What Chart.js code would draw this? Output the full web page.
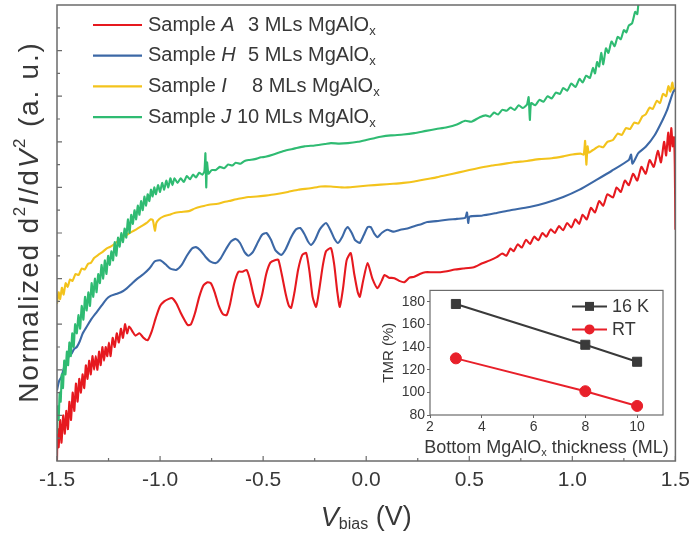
<!DOCTYPE html>
<html><head><meta charset="utf-8">
<script src="https://cdn.jsdelivr.net/npm/chart.js@4/dist/chart.umd.min.js"></script>
<style>
html,body{margin:0;padding:0;background:#fff;}
#wrap{position:relative;width:697px;height:540px;overflow:hidden;}
#main{position:absolute;left:0;top:0;}
#inset{position:absolute;left:380px;top:280px;}
</style></head><body>
<div id="wrap"><canvas id="main" width="697" height="540"></canvas><canvas id="inset" width="300" height="180"></canvas></div>
<script>
// ---------- data (V_bias in V, normalized d2I/dV2 in a.u.) ----------
const sampleA = [[-1.500,0.0],[-1.497,0.7],[-1.492,0.3],[-1.485,0.9],[-1.478,0.4],[-1.470,1.0],[-1.462,0.6],[-1.455,1.1],[-1.447,0.7],[-1.440,1.3],[-1.432,0.9],[-1.424,1.5],[-1.416,1.1],[-1.408,1.7],[-1.400,1.3],[-1.392,1.8],[-1.384,1.5],[-1.376,1.9],[-1.368,1.6],[-1.360,2.1],[-1.352,1.8],[-1.344,2.2],[-1.336,1.9],[-1.328,2.3],[-1.320,2.0],[-1.312,2.3],[-1.304,2.0],[-1.296,2.4],[-1.288,2.1],[-1.280,2.5],[-1.272,2.2],[-1.264,2.5],[-1.256,2.3],[-1.248,2.6],[-1.240,2.3],[-1.230,2.7],[-1.220,2.5],[-1.210,2.8],[-1.200,2.6],[-1.190,2.9],[-1.180,2.7],[-1.170,3.0],[-1.160,2.8],[-1.150,2.95],[-1.135,2.85],[-1.120,2.75],[-1.100,2.80],[-1.080,2.70],[-1.060,2.65],[-1.040,2.85],[-1.020,3.15],[-1.000,3.40],[-0.980,3.50],[-0.960,3.55],[-0.941,3.57],[-0.920,3.45],[-0.900,3.25],[-0.880,3.08],[-0.865,2.98],[-0.850,3.00],[-0.830,3.25],[-0.810,3.60],[-0.790,3.85],[-0.770,3.92],[-0.754,3.90],[-0.735,3.70],[-0.715,3.40],[-0.695,3.22],[-0.677,3.20],[-0.660,3.45],[-0.640,3.90],[-0.620,4.15],[-0.600,4.15],[-0.580,4.19],[-0.565,4.00],[-0.550,3.70],[-0.535,3.45],[-0.523,3.38],[-0.505,3.65],[-0.485,4.10],[-0.465,4.35],[-0.440,4.41],[-0.426,4.41],[-0.410,4.10],[-0.390,3.65],[-0.375,3.40],[-0.364,3.36],[-0.348,3.70],[-0.330,4.20],[-0.310,4.52],[-0.291,4.56],[-0.275,4.15],[-0.260,3.60],[-0.243,3.38],[-0.228,3.75],[-0.210,4.30],[-0.195,4.60],[-0.171,4.67],[-0.155,4.30],[-0.140,3.70],[-0.128,3.38],[-0.112,3.80],[-0.095,4.40],[-0.075,4.56],[-0.058,4.10],[-0.041,3.70],[-0.031,3.60],[-0.015,3.95],[0.007,4.34],[0.030,4.00],[0.055,3.79],[0.075,3.95],[0.089,4.08],[0.110,4.02],[0.137,4.01],[0.160,3.95],[0.185,3.92],[0.210,4.02],[0.233,4.04],[0.260,4.10],[0.286,4.14],[0.320,4.14],[0.360,4.14],[0.392,4.16],[0.430,4.20],[0.470,4.22],[0.522,4.25],[0.560,4.33],[0.600,4.40],[0.633,4.47],[0.660,4.55],[0.680,4.50],[0.700,4.66],[0.715,4.60],[0.735,4.75],[0.755,4.68],[0.775,4.85],[0.795,4.76],[0.815,4.92],[0.835,4.84],[0.855,5.00],[0.874,4.92],[0.895,5.08],[0.915,5.00],[0.935,5.15],[0.955,5.06],[0.975,5.22],[0.995,5.12],[1.015,5.30],[1.033,5.20],[1.050,5.40],[1.070,5.30],[1.090,5.55],[1.110,5.45],[1.130,5.70],[1.150,5.60],[1.170,5.85],[1.197,5.78],[1.215,6.00],[1.235,5.90],[1.255,6.15],[1.274,6.05],[1.295,6.30],[1.315,6.15],[1.335,6.45],[1.356,6.30],[1.375,6.60],[1.395,6.45],[1.415,6.80],[1.430,6.55],[1.445,7.00],[1.455,6.70],[1.465,7.20],[1.473,6.80],[1.480,7.30],[1.487,6.90],[1.493,7.10],[1.497,6.50],[1.500,5.07]];

const sampleH = [[-1.500,1.55],[-1.490,1.75],[-1.478,1.85],[-1.466,2.05],[-1.454,2.15],[-1.442,2.30],[-1.430,2.35],[-1.418,2.45],[-1.404,2.50],[-1.390,2.62],[-1.375,2.80],[-1.355,2.95],[-1.335,3.10],[-1.310,3.25],[-1.285,3.40],[-1.260,3.55],[-1.240,3.62],[-1.215,3.66],[-1.190,3.70],[-1.163,3.78],[-1.135,3.90],[-1.110,4.00],[-1.080,4.10],[-1.052,4.22],[-1.025,4.38],[-1.000,4.40],[-0.975,4.32],[-0.950,4.22],[-0.922,4.19],[-0.895,4.30],[-0.870,4.50],[-0.845,4.66],[-0.826,4.69],[-0.805,4.62],[-0.780,4.48],[-0.755,4.37],[-0.730,4.34],[-0.705,4.45],[-0.680,4.65],[-0.655,4.82],[-0.633,4.87],[-0.612,4.78],[-0.590,4.58],[-0.571,4.50],[-0.550,4.58],[-0.525,4.80],[-0.505,4.96],[-0.484,5.00],[-0.462,4.85],[-0.440,4.62],[-0.412,4.52],[-0.390,4.65],[-0.365,4.90],[-0.340,5.08],[-0.320,5.11],[-0.300,4.98],[-0.283,4.82],[-0.267,4.74],[-0.248,4.85],[-0.225,5.08],[-0.195,5.22],[-0.172,5.05],[-0.155,4.88],[-0.137,4.78],[-0.118,4.90],[-0.100,5.08],[-0.089,5.13],[-0.070,5.00],[-0.055,4.85],[-0.041,4.80],[-0.031,4.78],[-0.012,4.95],[0.007,5.13],[0.022,5.13],[0.040,4.98],[0.055,4.91],[0.075,5.00],[0.103,5.07],[0.130,5.03],[0.166,5.07],[0.200,5.10],[0.233,5.15],[0.270,5.20],[0.296,5.24],[0.340,5.26],[0.392,5.29],[0.440,5.31],[0.480,5.33],[0.489,5.45],[0.495,5.22],[0.502,5.36],[0.560,5.38],[0.633,5.44],[0.700,5.50],[0.792,5.57],[0.870,5.66],[0.956,5.79],[1.035,5.95],[1.115,6.16],[1.190,6.36],[1.274,6.60],[1.285,6.72],[1.292,6.52],[1.320,6.75],[1.356,6.89],[1.400,7.15],[1.438,7.48],[1.460,7.70],[1.476,7.92],[1.490,8.10],[1.500,8.15]];

const sampleI = [[-1.500,3.45],[-1.492,3.70],[-1.485,3.55],[-1.476,3.80],[-1.468,3.65],[-1.458,3.90],[-1.448,3.82],[-1.437,3.98],[-1.425,3.95],[-1.410,4.10],[-1.395,4.08],[-1.380,4.22],[-1.365,4.20],[-1.350,4.32],[-1.335,4.35],[-1.320,4.45],[-1.300,4.52],[-1.280,4.58],[-1.260,4.66],[-1.240,4.70],[-1.211,4.80],[-1.190,4.88],[-1.165,4.95],[-1.140,5.02],[-1.115,5.08],[-1.090,5.15],[-1.065,5.22],[-1.045,5.30],[-1.035,5.28],[-1.025,5.05],[-1.018,5.22],[-1.005,5.30],[-0.985,5.36],[-0.956,5.40],[-0.930,5.44],[-0.900,5.46],[-0.860,5.48],[-0.830,5.54],[-0.800,5.58],[-0.763,5.62],[-0.720,5.64],[-0.690,5.68],[-0.667,5.70],[-0.620,5.75],[-0.571,5.79],[-0.530,5.80],[-0.489,5.82],[-0.440,5.85],[-0.380,5.90],[-0.330,5.95],[-0.270,5.98],[-0.220,6.02],[-0.171,6.02],[-0.120,6.00],[-0.089,6.00],[-0.040,6.02],[0.010,6.04],[0.070,6.06],[0.130,6.08],[0.180,6.10],[0.233,6.13],[0.290,6.18],[0.340,6.22],[0.392,6.27],[0.450,6.33],[0.500,6.38],[0.551,6.43],[0.610,6.48],[0.660,6.51],[0.715,6.55],[0.780,6.58],[0.840,6.62],[0.900,6.64],[0.956,6.68],[1.000,6.72],[1.040,6.74],[1.055,6.72],[1.062,7.02],[1.068,6.50],[1.074,6.90],[1.080,6.76],[1.100,6.82],[1.130,6.90],[1.150,6.88],[1.170,7.00],[1.197,7.04],[1.220,7.18],[1.240,7.15],[1.260,7.30],[1.280,7.28],[1.300,7.42],[1.320,7.40],[1.340,7.56],[1.356,7.60],[1.375,7.75],[1.390,7.72],[1.410,7.90],[1.425,7.85],[1.440,8.05],[1.455,8.00],[1.466,8.22],[1.476,8.10],[1.485,8.30],[1.492,8.12],[1.500,8.18]];

const sampleJ = [[-1.500,0.6],[-1.496,1.2],[-1.492,0.9],[-1.487,1.5],[-1.482,1.3],[-1.477,1.9],[-1.471,1.6],[-1.465,2.2],[-1.459,1.9],[-1.452,2.4],[-1.446,2.1],[-1.440,2.6],[-1.433,2.3],[-1.426,2.8],[-1.419,2.5],[-1.412,3.0],[-1.404,2.8],[-1.396,3.2],[-1.388,2.9],[-1.380,3.4],[-1.372,3.1],[-1.364,3.6],[-1.356,3.3],[-1.348,3.7],[-1.340,3.4],[-1.332,3.9],[-1.324,3.6],[-1.316,4.0],[-1.308,3.7],[-1.300,4.1],[-1.292,3.9],[-1.284,4.3],[-1.276,4.0],[-1.268,4.4],[-1.260,4.1],[-1.252,4.5],[-1.244,4.3],[-1.236,4.6],[-1.228,4.4],[-1.220,4.8],[-1.212,4.5],[-1.204,4.9],[-1.196,4.7],[-1.188,5.0],[-1.180,4.8],[-1.172,5.1],[-1.164,4.9],[-1.156,5.3],[-1.148,5.0],[-1.140,5.4],[-1.132,5.2],[-1.124,5.5],[-1.116,5.3],[-1.108,5.6],[-1.100,5.4],[-1.092,5.7],[-1.084,5.5],[-1.076,5.8],[-1.068,5.6],[-1.060,5.85],[-1.052,5.7],[-1.044,5.95],[-1.036,5.8],[-1.028,6.0],[-1.020,5.85],[-1.010,6.05],[-1.000,5.9],[-0.990,6.1],[-0.980,5.95],[-0.970,6.15],[-0.960,6.0],[-0.950,6.2],[-0.940,6.05],[-0.930,6.2],[-0.915,6.1],[-0.900,6.2],[-0.885,6.12],[-0.870,6.25],[-0.855,6.18],[-0.840,6.28],[-0.826,6.22],[-0.810,6.32],[-0.795,6.28],[-0.785,6.35],[-0.780,6.75],[-0.776,6.00],[-0.772,6.55],[-0.765,6.30],[-0.750,6.38],[-0.730,6.38],[-0.710,6.45],[-0.690,6.42],[-0.670,6.50],[-0.650,6.48],[-0.633,6.54],[-0.610,6.52],[-0.590,6.58],[-0.571,6.60],[-0.540,6.62],[-0.510,6.66],[-0.489,6.67],[-0.450,6.72],[-0.400,6.80],[-0.350,6.85],[-0.300,6.90],[-0.250,6.92],[-0.200,6.95],[-0.171,6.97],[-0.130,6.96],[-0.089,6.97],[-0.040,7.00],[0.000,7.04],[0.040,7.08],[0.070,7.11],[0.120,7.14],[0.180,7.16],[0.233,7.19],[0.290,7.24],[0.340,7.28],[0.392,7.32],[0.440,7.38],[0.480,7.46],[0.510,7.44],[0.551,7.54],[0.580,7.58],[0.600,7.55],[0.620,7.64],[0.640,7.60],[0.660,7.70],[0.681,7.68],[0.700,7.75],[0.720,7.70],[0.740,7.80],[0.760,7.74],[0.780,7.82],[0.788,7.98],[0.794,7.48],[0.800,7.85],[0.820,7.80],[0.840,7.92],[0.860,7.88],[0.880,8.00],[0.900,7.95],[0.920,8.08],[0.940,8.05],[0.956,8.18],[0.975,8.12],[0.995,8.28],[1.015,8.20],[1.035,8.38],[1.050,8.30],[1.067,8.45],[1.085,8.40],[1.100,8.62],[1.110,8.50],[1.120,8.75],[1.130,8.65],[1.140,8.95],[1.150,8.70],[1.163,9.05],[1.175,8.95],[1.190,9.20],[1.205,9.10],[1.220,9.30],[1.235,9.25],[1.250,9.45],[1.262,9.40],[1.274,9.55],[1.290,9.60],[1.305,9.85],[1.315,9.80],[1.322,10.1],[1.340,10.5],[1.360,10.8]];

const sampleLetters = ['A','H','I','J'];
const layerCounts = ['3','5','8','10'];
const seriesColors = ['#e6191f','#3c68a6','#f3c31c','#2fbb72'];

const xTickValues = [-1.5,-1.0,-0.5,0,0.5,1.0,1.5];
const xTickLabels = ['-1.5','-1.0','-0.5','0.0','0.5','1.0','1.5'];
const xMinorTicks = [-1.25,-0.75,-0.25,0.25,0.75,1.25];
const yMajorTicks = [1,2,3,4,5,6,7,8,9];
const yMinorTicks = [0.5,1.5,2.5,3.5,4.5,5.5,6.5,7.5,8.5,9.5];

// inset: TMR vs bottom MgAlOx thickness
const insetThickness = [3,8,10];
const tmr16K = [178,142,127];
const tmrRT = [130,101,88];
const insetSeriesLabels = ['16 K','RT'];
const insetXTicks = [2,4,6,8,10];
const insetYTicks = [80,100,120,140,160,180];

const FONT = '"Liberation Sans", Arial, Helvetica, sans-serif';
const TXT = '#383838';

function toXY(arr){ return arr.map(p => ({x:p[0], y:p[1]})); }

function drawRuns(ctx, runs, x, y, align, spacing){
  const sp = spacing || 0;
  ctx.letterSpacing = sp + 'px';
  let total = 0;
  runs.forEach(r => { ctx.font = (r.style||'') + ' ' + r.size + 'px ' + FONT; r.w = ctx.measureText(r.t).width; total += r.w; });
  let cx = align === 'center' ? x - total/2 : x;
  runs.forEach(r => {
    ctx.font = (r.style||'') + ' ' + r.size + 'px ' + FONT;
    ctx.fillText(r.t, cx, y + (r.dy||0));
    cx += r.w;
  });
  ctx.letterSpacing = '0px';
  return total;
}

const mainDecor = {
  id: 'mainDecor',
  afterDraw(chart){
    const ctx = chart.ctx, a = chart.chartArea, xs = chart.scales.x, ys = chart.scales.y;
    ctx.save();
    // frame
    ctx.strokeStyle = '#6b6b6b'; ctx.lineWidth = 1.5;
    ctx.strokeRect(a.left, a.top, a.right - a.left, a.bottom - a.top);
    // inward ticks
    ctx.lineWidth = 1.2; ctx.beginPath();
    xTickValues.forEach(v => { const p = xs.getPixelForValue(v); ctx.moveTo(p, a.bottom); ctx.lineTo(p, a.bottom - 5); });
    xMinorTicks.forEach(v => { const p = xs.getPixelForValue(v); ctx.moveTo(p, a.bottom); ctx.lineTo(p, a.bottom - 3); });
    yMajorTicks.forEach(v => { const p = ys.getPixelForValue(v); ctx.moveTo(a.left, p); ctx.lineTo(a.left + 5, p); });
    yMinorTicks.forEach(v => { const p = ys.getPixelForValue(v); ctx.moveTo(a.left, p); ctx.lineTo(a.left + 3, p); });
    ctx.stroke();

    // legend
    ctx.fillStyle = TXT; ctx.textBaseline = 'middle'; ctx.textAlign = 'left';
    const fs = 20;
    ctx.font = fs + 'px ' + FONT;
    const digitW = ctx.measureText('3').width;
    chart.data.datasets.forEach((ds, i) => {
      const y = a.top + 20 + i * 30.7;
      ctx.strokeStyle = ds.borderColor; ctx.lineWidth = 2.2;
      ctx.beginPath(); ctx.moveTo(a.left + 36, y); ctx.lineTo(a.left + 85, y); ctx.stroke();
      ctx.fillStyle = TXT;
      drawRuns(ctx, [{t:'Sample ', size:fs}, {t:sampleLetters[i], size:fs, style:'italic'}], a.left + 91, y, 'left');
      ctx.font = fs + 'px ' + FONT;
      const numW = ctx.measureText(layerCounts[i]).width;
      const start = a.left + 191 + digitW - numW + (i === 2 ? 4 : 0);
      drawRuns(ctx, [{t:layerCounts[i] + ' MLs MgAlO', size:fs}, {t:'x', size:13, dy:6}], start, y, 'left');
    });

    // x title
    ctx.fillStyle = TXT;
    drawRuns(ctx, [{t:'V', size:27, style:'italic'}, {t:'bias', size:16, dy:7}, {t:' (V)', size:27}], (a.left + a.right)/2, 518, 'center');

    // y title (rotated)
    ctx.save();
    ctx.translate(30, (a.top + a.bottom)/2 - 11);
    ctx.rotate(-Math.PI/2);
    drawRuns(ctx, [
      {t:'Normalized d', size:28}, {t:'2', size:17, dy:-10}, {t:'I', size:28, style:'italic'},
      {t:'/d', size:28}, {t:'V', size:28, style:'italic'}, {t:'2', size:17, dy:-10}, {t:' (a. u.)', size:28}
    ], 0, 0, 'center', 1.8);
    ctx.restore();
    ctx.restore();
  }
};

new Chart(document.getElementById('main'), {
  type: 'line',
  data: {
    datasets: [
      {label:'Sample A', data: toXY(sampleA), borderColor: seriesColors[0], order: 1},
      {label:'Sample H', data: toXY(sampleH), borderColor: seriesColors[1], order: 2},
      {label:'Sample I', data: toXY(sampleI), borderColor: seriesColors[2], order: 3},
      {label:'Sample J', data: toXY(sampleJ), borderColor: seriesColors[3], order: 0}
    ]
  },
  options: {
    responsive: false, animation: false, devicePixelRatio: 1,
    layout: {padding: {top: 5, right: 17, left: 0, bottom: 0}},
    elements: {point: {radius: 0}, line: {borderWidth: 2.1, tension: 0.2}},
    plugins: {legend: {display: false}, tooltip: {enabled: false}},
    scales: {
      x: {
        type: 'linear', min: -1.5, max: 1.5,
        afterBuildTicks: s => { s.ticks = xTickValues.map(v => ({value: v})); },
        ticks: {callback: (v, i) => xTickLabels[i], font: {size: 21, family: FONT}, color: TXT, padding: 7, maxRotation: 0, autoSkip: false},
        grid: {display: false, drawTicks: false},
        border: {display: false},
        afterFit: s => { s.height = 79; }
      },
      y: {
        type: 'linear', min: 0, max: 10,
        ticks: {display: false},
        grid: {display: false, drawTicks: false},
        border: {display: false},
        afterFit: s => { s.width = 57; }
      }
    }
  },
  plugins: [mainDecor]
});

const insetDecor = {
  id: 'insetDecor',
  beforeDraw(chart){
    const ctx = chart.ctx, a = chart.chartArea;
    ctx.save(); ctx.fillStyle = '#fff';
    ctx.fillRect(a.left, a.top, a.right - a.left, a.bottom - a.top);
    ctx.restore();
  },
  afterDraw(chart){
    const ctx = chart.ctx, a = chart.chartArea;
    ctx.save();
    ctx.strokeStyle = '#6b6b6b'; ctx.lineWidth = 1.2;
    ctx.strokeRect(a.left, a.top, a.right - a.left, a.bottom - a.top);
    // legend
    ctx.textBaseline = 'middle'; ctx.textAlign = 'left';
    chart.data.datasets.forEach((ds, i) => {
      const y = a.top + 16 + i * 23;
      const x0 = a.left + 142, x1 = a.left + 177, xm = (x0 + x1)/2;
      ctx.strokeStyle = ds.borderColor; ctx.lineWidth = 2;
      ctx.beginPath(); ctx.moveTo(x0, y); ctx.lineTo(x1, y); ctx.stroke();
      ctx.fillStyle = ds.backgroundColor; ctx.strokeStyle = ds.borderColor;
      ctx.beginPath();
      if (ds.pointStyle === 'rect') { ctx.rect(xm - 4.5, y - 4.5, 9, 9); } else { ctx.arc(xm, y, 5, 0, Math.PI*2); }
      ctx.fill();
      ctx.fillStyle = TXT;
      ctx.font = '18px ' + FONT;
      ctx.fillText(insetSeriesLabels[i], x1 + 5, y + 1);
    });
    // x title
    ctx.fillStyle = TXT;
    drawRuns(ctx, [{t:'Bottom MgAlO', size:18}, {t:'x', size:11, dy:5}, {t:' thickness (ML)', size:18}], (a.left + a.right)/2, 168, 'center');
    ctx.restore();
  }
};

new Chart(document.getElementById('inset'), {
  type: 'line',
  data: {
    datasets: [
      {label: insetSeriesLabels[0], data: insetThickness.map((t, i) => ({x: t, y: tmr16K[i]})),
       borderColor: '#3a3a3a', backgroundColor: '#3a3a3a', pointStyle: 'rect', pointRadius: 6.4, pointBorderWidth: 1, borderWidth: 2},
      {label: insetSeriesLabels[1], data: insetThickness.map((t, i) => ({x: t, y: tmrRT[i]})),
       borderColor: '#e8202a', backgroundColor: '#e8202a', pointStyle: 'circle', pointRadius: 5.5, pointBorderWidth: 1, borderWidth: 2}
    ]
  },
  options: {
    responsive: false, animation: false, devicePixelRatio: 1,
    layout: {padding: {top: 9, right: 17, left: 0, bottom: 0}},
    elements: {line: {tension: 0}},
    plugins: {legend: {display: false}, tooltip: {enabled: false}},
    scales: {
      x: {
        type: 'linear', min: 2, max: 11,
        afterBuildTicks: s => { s.ticks = insetXTicks.map(v => ({value: v})); },
        ticks: {font: {size: 14, family: FONT}, color: TXT, padding: 1, maxRotation: 0, autoSkip: false},
        grid: {drawOnChartArea: false, tickLength: 3, color: '#666'},
        border: {display: false},
        afterFit: s => { s.height = 45; }
      },
      y: {
        type: 'linear', min: 80, max: 190,
        afterBuildTicks: s => { s.ticks = insetYTicks.map(v => ({value: v})); },
        ticks: {font: {size: 14, family: FONT}, color: TXT, padding: 2, autoSkip: false},
        grid: {drawOnChartArea: false, tickLength: 3, color: '#666'},
        border: {display: false},
        title: {display: true, text: 'TMR (%)', font: {size: 15, family: FONT}, color: TXT, padding: 0},
        afterFit: s => { s.width = 50; }
      }
    }
  },
  plugins: [insetDecor]
});
</script>
</body></html>
